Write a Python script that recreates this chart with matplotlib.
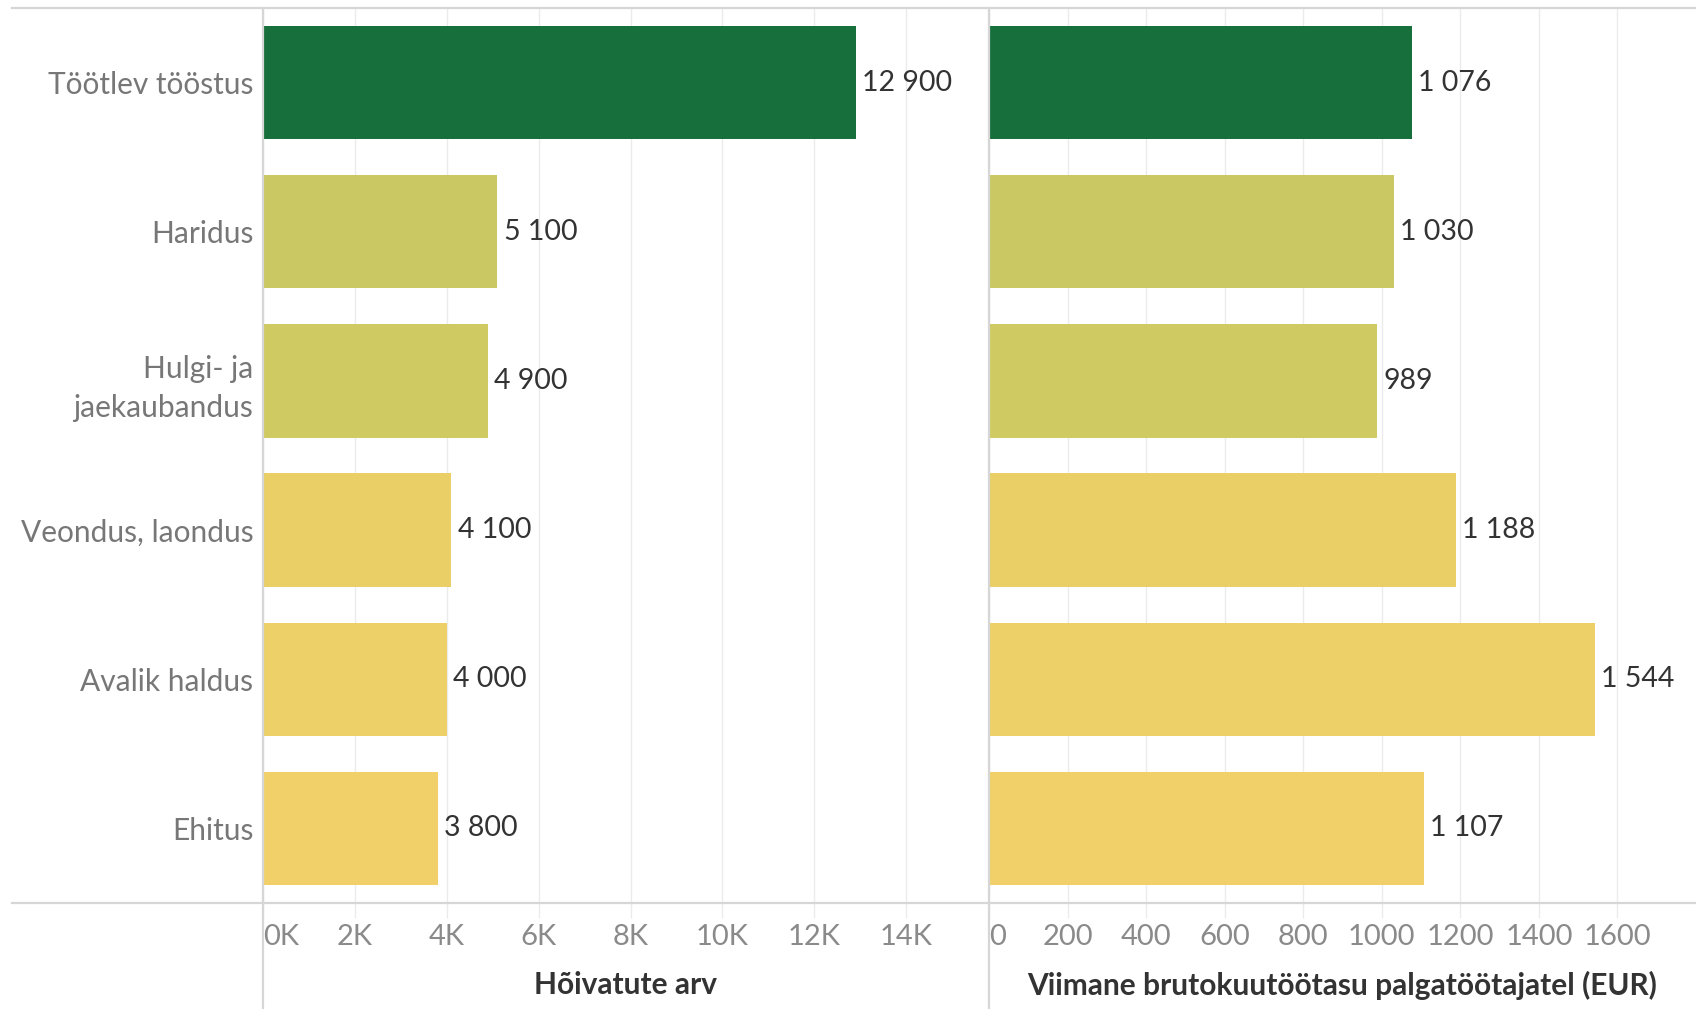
import matplotlib
matplotlib.use("Agg")
import matplotlib.pyplot as plt
from matplotlib.lines import Line2D

categories = ["Töötlev tööstus", "Haridus", "Hulgi- ja\njaekaubandus",
              "Veondus, laondus", "Avalik haldus", "Ehitus"]
employed = [12900, 5100, 4900, 4100, 4000, 3800]
wages = [1076, 1030, 989, 1188, 1544, 1107]
bar_colors = ["#176F3B", "#CAC862", "#D0CA62", "#E9CF66", "#EDD068", "#F1D06A"]
left_ticks = [0, 2000, 4000, 6000, 8000, 10000, 12000, 14000]
left_ticklabels = ["0K", "2K", "4K", "6K", "8K", "10K", "12K", "14K"]
right_ticks = [0, 200, 400, 600, 800, 1000, 1200, 1400, 1600]
right_ticklabels = ["0", "200", "400", "600", "800", "1000", "1200", "1400", "1600"]
left_title = "Hõivatute arv"
right_title = "Viimane brutokuutöötasu palgatöötajatel (EUR)"

FONT = ["Lato", "DejaVu Sans"]
plt.rcParams["font.family"] = FONT

W, H = 1696, 1009
fig = plt.figure(figsize=(W / 100, H / 100), dpi=100)

top_px, bot_px = 8, 903
x_left0, x_mid, x_right = 263, 989, 1696

def ax_rect(x0, x1):
    return [x0 / W, 1 - bot_px / H, (x1 - x0) / W, (bot_px - top_px) / H]

ax1 = fig.add_axes(ax_rect(x_left0, x_mid))
ax2 = fig.add_axes(ax_rect(x_mid, x_right))

def fmt(v):
    return f"{v:,}".replace(",", " ")

ypos = list(range(len(categories)))
grid_c = "#EBEBEB"
for ax, vals, xmax, ticks, tlabels, title in [
        (ax1, employed, 15800, left_ticks, left_ticklabels, left_title),
        (ax2, wages, 1800, right_ticks, right_ticklabels, right_title)]:
    ax.barh(ypos, vals, height=0.76, color=bar_colors, zorder=3)
    ax.set_xlim(0, xmax)
    ax.set_ylim(len(categories) - 0.5, -0.5)
    for y, v in zip(ypos, vals):
        ax.text(v + xmax * 0.0085, y, fmt(v), va="center", ha="left",
                fontsize=20.5, color="#333333", zorder=4)
    ax.set_xticks(ticks)
    ax.set_xticklabels(tlabels, fontsize=21, color="#8A8A8A")
    ax.get_xticklabels()[0].set_horizontalalignment("left")
    ax.tick_params(axis="x", length=11, width=1, color=grid_c, pad=4)
    ax.tick_params(axis="y", length=0)
    ax.grid(axis="x", color=grid_c, linewidth=1, zorder=0)
    for s in ax.spines.values():
        s.set_visible(False)
    ax.set_xlabel(title, fontsize=21.5, fontweight="bold", color="#333333", labelpad=15)

ax1.set_yticks(ypos)
ax1.set_yticklabels(categories, fontsize=21.5, color="#777777", linespacing=1.45)
ax1.tick_params(axis="y", pad=7)
ax2.set_yticks([])

line_c = "#D6D6D6"
def fig_line(x0, y0, x1, y1):
    fig.add_artist(Line2D([x0 / W, x1 / W], [1 - y0 / H, 1 - y1 / H],
                          color=line_c, linewidth=1.6, zorder=10))

fig_line(12, top_px, W, top_px)
fig_line(12, bot_px, W, bot_px)
fig_line(x_left0, top_px, x_left0, H)
fig_line(x_mid, top_px, x_mid, H)

fig.savefig("out.png", dpi=100, facecolor="white")
